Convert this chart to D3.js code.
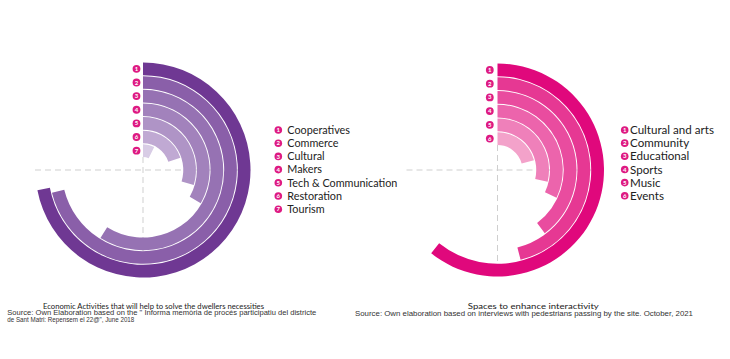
<!DOCTYPE html>
<html><head><meta charset="utf-8">
<script src="https://cdn.jsdelivr.net/npm/d3@7"></script>
<style>html,body{margin:0;padding:0;background:#fff;}svg{display:block;}</style>
</head><body>
<svg id="chart" width="730" height="359"></svg>
<script>
// ---- Data ----
const leftCategories = ["Cooperatives","Commerce","Cultural","Makers","Tech & Communication","Restoration","Tourism"];
const leftValues = [72, 71.1, 58.9, 33.3, 29.6, 20, 7.2];   // % of full circle
const rightCategories = ["Cultural and arts","Community","Educational","Sports","Music","Events"];
const rightValues = [60.7, 46, 39.8, 32, 28.7, 20.8];       // % of full circle
const leftColors = ["#6f3893","#8a5fa9","#9672b3","#a282bc","#af94c6","#c0a9d3","#d8cce5"];
const rightColors = ["#e0087c","#e63893","#e94c9f","#ec64ac","#ef80ba","#f3a2ca"];
const leftTitle = "Economic Activities that will help to solve the dwellers necessities";
const leftSource = ["Source: Own Elaboration based on the \" Informa memòria de procés participatiu del districte",
                    "de Sant Matri: Repensem el 22@\", June 2018"];
const rightTitle = "Spaces to enhance interactivity";
const rightSource = ["Source: Own elaboration based on interviews with pedestrians passing by the site. October, 2021"];
const badgeColor = "#de1a82";

const svg = d3.select("#chart");

function radial(cfg){
  const g = svg.append("g").attr("transform",`translate(${cfg.cx},${cfg.cy})`);
  const n = cfg.values.length;
  const angle = d3.scaleLinear().domain([0,100]).range([0, 2*Math.PI]);
  const band = d3.scaleBand().domain(d3.range(n)).range([cfg.R, cfg.r0]).paddingInner(0.07);
  // gridlines
  const grid = g.append("g").attr("stroke","#cfcfcf").attr("stroke-width",1).attr("stroke-dasharray","6,4");
  grid.append("line").attr("x1",-cfg.hx).attr("x2",cfg.R).attr("y1",0).attr("y2",0);
  grid.append("line").attr("x1",0).attr("x2",0).attr("y1",-cfg.r0).attr("y2",cfg.vy);
  const arc = d3.arc()
    .innerRadius((d,i)=>band(i))
    .outerRadius((d,i)=>band(i)+band.bandwidth())
    .startAngle(0)
    .endAngle(d=>angle(d));
  g.selectAll("path.ring").data(cfg.values).join("path")
    .attr("class","ring")
    .attr("d",(d,i)=>arc(d,i))
    .attr("fill",(d,i)=>cfg.colors[i]);
  // ring badges
  const bg = g.selectAll("g.rb").data(cfg.values).join("g")
    .attr("transform",(d,i)=>`translate(${cfg.bx},${-(band(i)+band.bandwidth()/2)})`);
  bg.append("circle").attr("r",3.9).attr("fill",badgeColor);
  bg.append("text").text((d,i)=>i+1).attr("text-anchor","middle").attr("dy","0.35em")
    .attr("font-family","Lato, sans-serif").attr("font-size",6).attr("font-weight","bold").attr("fill","#fff");
  // legend
  const lg = svg.append("g").attr("transform",`translate(${cfg.lx},${cfg.ly})`);
  const row = lg.selectAll("g").data(cfg.cats).join("g")
    .attr("transform",(d,i)=>`translate(0,${i*cfg.lstep})`);
  row.append("circle").attr("r",3.8).attr("fill",badgeColor);
  row.append("text").text((d,i)=>i+1).attr("text-anchor","middle").attr("dy","0.35em")
    .attr("font-family","Lato, sans-serif").attr("font-size",6).attr("font-weight","bold").attr("fill","#fff");
  row.append("text").text(d=>d).attr("x",cfg.ltx).attr("dy","0.36em")
    .attr("font-family","Lato, sans-serif").attr("font-size",cfg.lfs).attr("fill","#222");
  // captions
  svg.append("text").text(cfg.title).attr("x",cfg.tx).attr("y",cfg.ty).attr("text-anchor","middle")
    .attr("textLength",cfg.tw).attr("lengthAdjust","spacingAndGlyphs")
    .attr("font-family","Lato, sans-serif").attr("font-size",8.4).attr("fill","#1a1a1a");
  cfg.source.forEach((s,i)=>{
    svg.append("text").text(s).attr("x",cfg.sx).attr("y",cfg.sy+i*6.7).attr("text-anchor",cfg.sa)
      .attr("textLength",cfg.sw[i]).attr("lengthAdjust","spacingAndGlyphs")
      .attr("font-family","'Liberation Sans', Arial, sans-serif").attr("font-size",6.6).attr("fill","#333");
  });
}

radial({cx:143, cy:170, R:107.5, r0:13, values:leftValues, colors:leftColors, cats:leftCategories,
  hx:108, vy:107, bx:-6.5, lx:278.3, ly:130, lstep:13.2, ltx:9, lfs:10.8,
  title:leftTitle, tx:153.5, ty:308.5, tw:221, source:leftSource, sx:7.3, sy:315.2, sw:[309,127], sa:"start"});
radial({cx:497.5, cy:170, R:106.5, r0:25, values:rightValues, colors:rightColors, cats:rightCategories,
  hx:91, vy:96, bx:-7.7, lx:624.7, ly:130, lstep:13.15, ltx:5.3, lfs:11.6,
  title:rightTitle, tx:533.3, ty:308.5, tw:131, source:rightSource, sx:524, sy:316, sw:[338], sa:"middle"});
</script>
</body></html>
